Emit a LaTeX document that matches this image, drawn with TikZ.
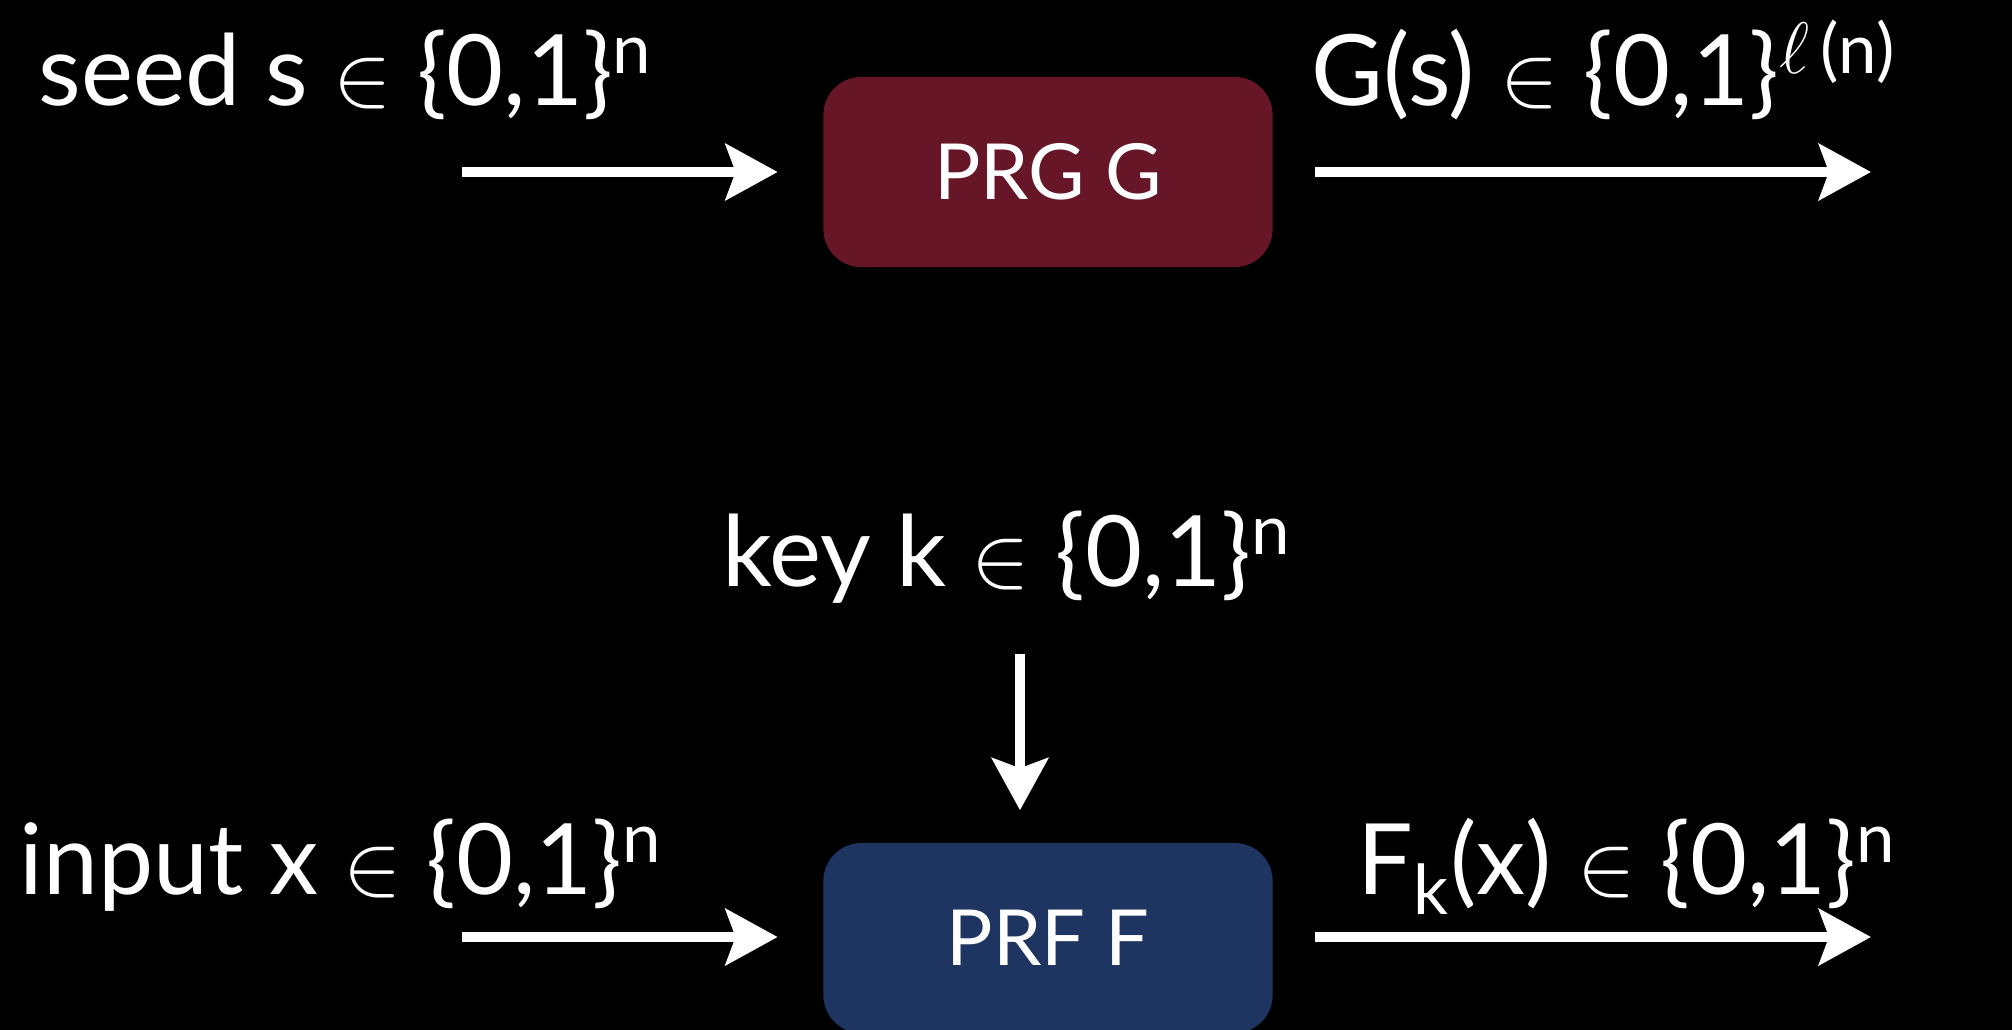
\documentclass[tikz,border=0pt]{standalone}
\usepackage{fontspec}
\setmainfont{Lato}
\usetikzlibrary{arrows.meta}
\definecolor{prgred}{RGB}{103,22,40}
\definecolor{prfblue}{RGB}{31,53,97}
\begin{document}
\begin{tikzpicture}[x=0.01cm,y=-0.01cm]
	\tikzstyle{setlabel}=[anchor=base west,inner sep=0pt,text=white,font=\fontsize{28}{34}\selectfont]
	\tikzstyle{prim}=[rounded corners=0.38cm,minimum width=4.49cm,minimum height=1.9cm,text=white,font=\fontsize{22}{26}\selectfont]
	\tikzstyle{flow}=[draw=white,line width=0.1cm,-{Stealth[length=0.52cm,width=0.56cm,inset=0.1cm]}]
	\useasboundingbox (0,0) rectangle (2012,1029);
	\fill[black] (-10,-10) rectangle (2022,1039);
	\begin{scope}
		\node [prim,fill=prgred] (prg) at (1048,172) {PRG G};
		\node [setlabel] (seed) at (38,105) {seed s $\in$ \{0,1\}\textsuperscript{n}};
		\node [setlabel] (gs) at (1311,105) {G(s) $\in$ \{0,1\}\textsuperscript{$\ell$\,(n)}};
		\coordinate (sin) at (462,172);
		\coordinate (gout) at (1871,172);
		\path[flow] (sin) -- (sin -| prg.west) [shorten >=0.45cm];
		\path[flow] (prg.east) -- (gout) [shorten <=0.42cm];
	\end{scope}
	\begin{scope}
		\node [prim,fill=prfblue] (prf) at (1048,938) {PRF F};
		\node [setlabel] (key) at (722,586) {key k $\in$ \{0,1\}\textsuperscript{n}};
		\node [setlabel] (input) at (19,894) {input x $\in$ \{0,1\}\textsuperscript{n}};
		\node [setlabel] (fk) at (1357,894) {F\textsubscript{k}(x) $\in$ \{0,1\}\textsuperscript{n}};
		\coordinate (kin) at (1020,654);
		\coordinate (xin) at (462,937);
		\coordinate (fout) at (1871,937);
		\path[flow] (kin) -- (kin |- prf.north) [shorten >=0.32cm];
		\path[flow] (xin) -- (xin -| prf.west) [shorten >=0.45cm];
		\path[flow] (prf.east |- fout) -- (fout) [shorten <=0.42cm];
	\end{scope}
\end{tikzpicture}
\end{document}
